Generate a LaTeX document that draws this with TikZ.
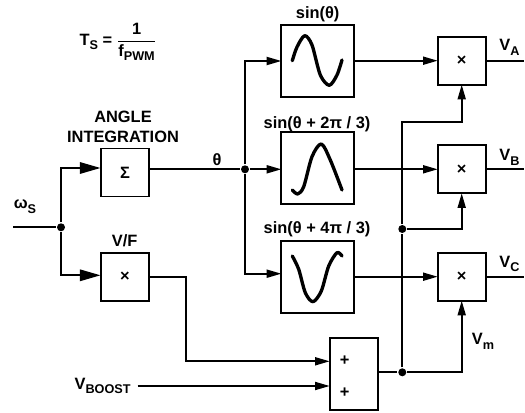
\documentclass[tikz,border=0pt]{standalone}
\usepackage{amsmath}
\usepackage{fontspec}
\setmainfont{Liberation Sans}
\usepackage{tikz}
\usetikzlibrary{arrows.meta}
\newcommand{\lowtxt}[1]{\raisebox{-3.6pt}{\fontsize{9.5}{10}\selectfont #1}}
\newcommand{\timesmark}{\raisebox{-1.6pt}{×}}

\begin{document}
\begin{tikzpicture}[x=0.75pt, y=-0.75pt, line width=1.35pt,
    txt/.style={font=\fontsize{12.3}{15}\selectfont\bfseries, inner sep=0pt, align=center},
    smallbox/.style={draw, txt, minimum size=36pt, outer sep=0pt},
    wavebox/.style={draw, minimum width=54.5pt, minimum height=54pt, outer sep=0pt},
    addbox/.style={draw, minimum width=36pt, minimum height=54pt, outer sep=0pt},
    dot/.style={circle, fill=black, inner sep=0pt, minimum size=6pt},
    wire/.style={-{Triangle[length=11pt, width=6pt]}},
    bigwire/.style={-{Triangle[length=15.5pt, width=8.6pt]}},
    wave/.style={line width=2.5pt, line cap=round, line join=round}]
  \useasboundingbox (0,0) rectangle (525,413);
  % blocks
  \node[smallbox] (sig) at (125,172.5) {Σ};
  \node[smallbox] (vf) at (125,276.7) {\timesmark};
  \node[wavebox] (sina) at (317.7,61) {};
  \node[wavebox] (sinb) at (317.7,168.3) {};
  \node[wavebox] (sinc) at (317.7,277) {};
  \node[smallbox] (mula) at (461.7,60.7) {\timesmark};
  \node[smallbox] (mulb) at (461.7,169.3) {\timesmark};
  \node[smallbox] (mulc) at (461.7,276.7) {\timesmark};
  \node[addbox] (add) at (353.8,373.7) {};
  \node[dot] (wdot) at (61,227.3) {};
  \node[dot] (thdot) at (245,169.3) {};
  \node[dot] (ydot) at (402.3,229) {};
  \node[dot] (vdot) at (402.3,372.3) {};
  % labels
  \node[txt] (ts) at (118,42) {T\lowtxt{S} = $\dfrac{\text{1}}{\text{f\lowtxt{PWM}}}$};
  \node[txt] (ang) at (123,127) {ANGLE\\INTEGRATION};
  \node[txt] (th) at (217,159.7) {θ};
  \node[txt] (wname) at (25,207) {ω\lowtxt{S}};
  \node[txt] (vfname) at (124.7,241) {V/F};
  \node[txt] (sanam) at (317.7,14) {sin(θ)};
  \node[txt] (sbnam) at (317,124.7) {sin(θ + 2π / 3)};
  \node[txt] (scnam) at (317,229) {sin(θ + 4π / 3)};
  \node[txt] (va) at (509.5,47) {V\lowtxt{A}};
  \node[txt] (vb) at (509.5,157) {V\lowtxt{B}};
  \node[txt] (vc) at (509.5,264) {V\lowtxt{C}};
  \node[txt] (vm) at (483,341) {V\lowtxt{m}};
  \node[txt, anchor=east] (vboost) at (137.5,386) {V\lowtxt{BOOST}\hspace{4.5pt}};
  \node[txt] (pa) at (344.7,361) {+};
  \node[txt] (pb) at (344.7,392.7) {+};
  % free ends
  \coordinate (wstart) at (13,227.3);
  \coordinate (sigin) at (100.5,168);
  \coordinate (vfin) at (100.5,275.3);
  \coordinate (bend) at (185.7,361.3);
  \coordinate (addina) at (329.7,361.3);
  \coordinate (addinb) at (329.7,386);
  \coordinate (ytop) at (402.3,122);
  \coordinate (outa) at (524,60.7);
  \coordinate (outb) at (524,169.3);
  \coordinate (outc) at (524,276.7);
  % connectors
  \draw (wstart) -- (wdot);
  \draw[bigwire] (wdot) |- (sigin);
  \draw[bigwire] (wdot) |- (vfin);
  \draw (sig.east |- thdot) -- (thdot);
  \draw[wire] (thdot) |- (sina.west);
  \draw[wire] (thdot) -- (thdot -| sinb.west);
  \draw[wire] (thdot) |- (sinc.west |- 0,273.7);
  \draw[wire] (sina.east |- mula.west) -- (mula.west);
  \draw[wire] (sinb.east |- mulb.west) -- (mulb.west);
  \draw[wire] (sinc.east |- mulc.west) -- (mulc.west);
  \draw (mula) -- (outa); \draw (mulb) -- (outb); \draw (mulc) -- (outc);
  \draw[wire] (vf.east) -| (bend) -- (addina);
  \draw[wire] (vboost.east |- addinb) -- (addinb);
  \draw (add.east |- vdot) -- (vdot);
  \draw (vdot) -- (ydot);
  \draw[wire] (ydot) -- (ytop) -| (mula.south);
  \draw[wire] (ydot) -| (mulb.south);
  \draw[wire] (vdot) -| (mulc.south);
  % waves
  \draw[wave] plot[smooth] coordinates {(292.3,60.7) (297,47) (304.7,35.7) (312,45) (320.3,75) (329.3,85.3) (337,75) (342,60)};
  \draw[wave] plot[smooth] coordinates {(292.3,190) (297.7,194) (303.7,186.7) (312,156.7) (321.3,144) (330.3,160) (342,190)};
  \draw[wave] plot[smooth] coordinates {(292.3,256) (298.7,269.3) (305.3,292.7) (313,301.7) (321.3,291) (328.7,266) (337,252.7) (342,256)};
\end{tikzpicture}
\end{document}
